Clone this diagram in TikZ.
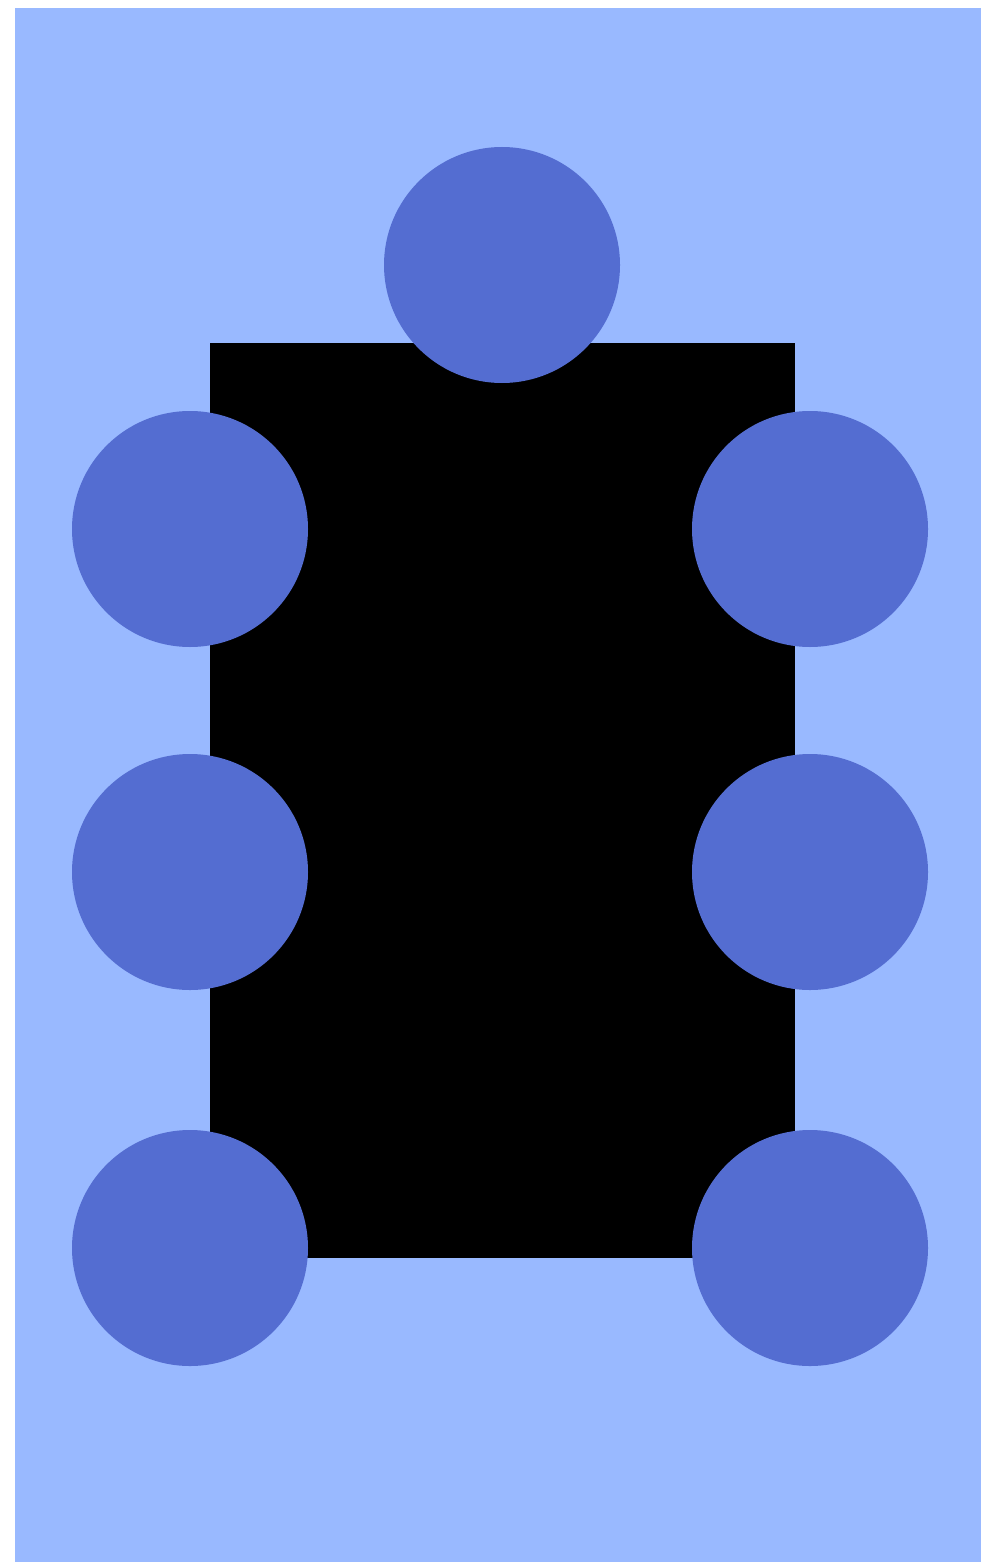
\documentclass[tikz,border=0pt]{standalone}
\definecolor{bgblue}{HTML}{99B9FF}
\definecolor{seat}{HTML}{546DD1}
\begin{document}
\begin{tikzpicture}[x=1pt,y=-1pt,
  seatnode/.style={circle,fill=seat,minimum size=236pt,inner sep=0pt,draw=none},
  tablenode/.style={rectangle,fill=black,draw=none,inner sep=0pt,minimum width=585pt,minimum height=915pt}]
\useasboundingbox (0,0) rectangle (980,1562);
\fill[bgblue] (15,8) rectangle (995,1575);
\node[tablenode] (table) at (502.5,800.5) {};
\node[seatnode] (top) at (502,265) {};
\node[seatnode] (l1) at (190,529) {};
\node[seatnode] (l2) at (190,872) {};
\node[seatnode] (l3) at (190,1248) {};
\node[seatnode] (r1) at (810,529) {};
\node[seatnode] (r2) at (810,872) {};
\node[seatnode] (r3) at (810,1248) {};
\end{tikzpicture}
\end{document}
